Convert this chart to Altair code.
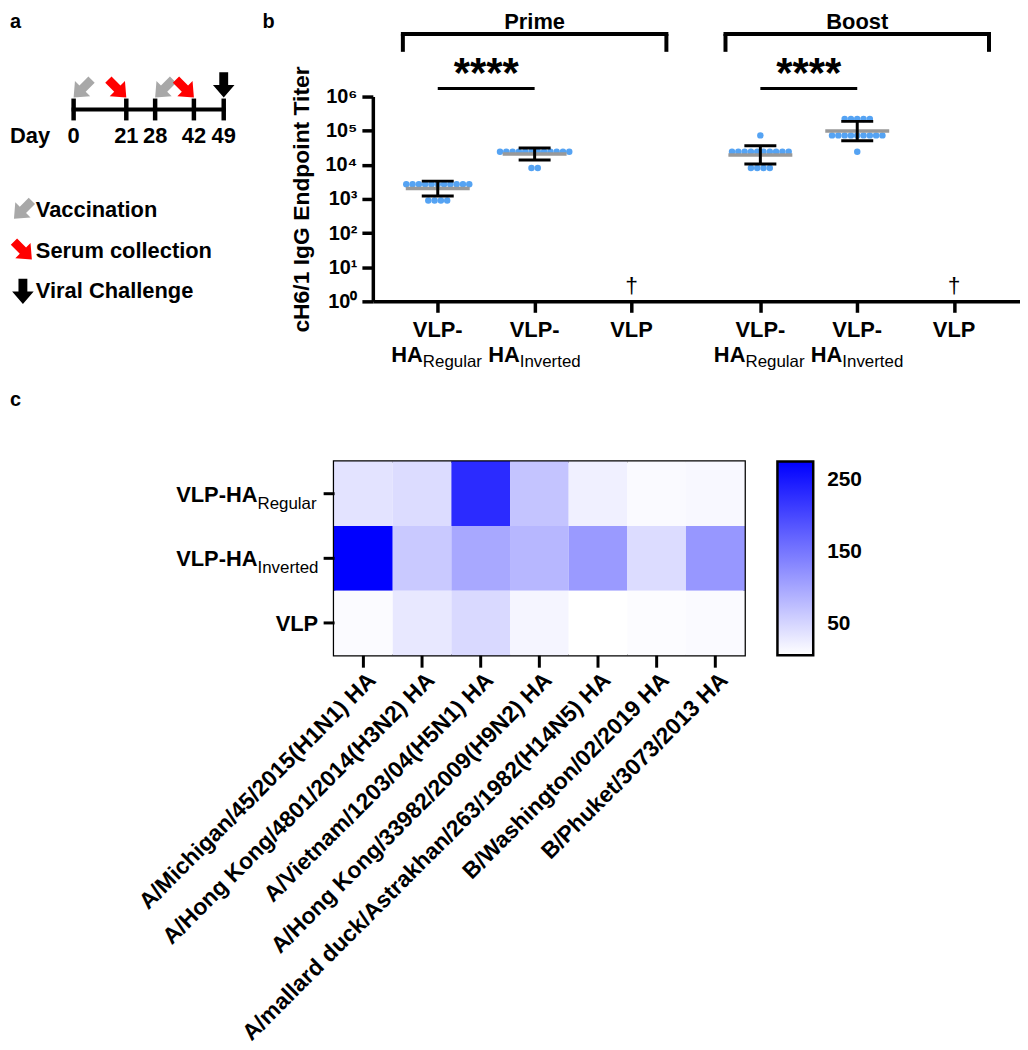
import math
import altair as alt
import pandas as pd

FONT = "Liberation Sans, Arial, Helvetica, sans-serif"

# ---------------- panel a : schedule ----------------
schedule_days = [0, 21, 28, 42, 49]
arrow_days = [0, 21, 28, 42, 49]
arrow_events = ["Vaccination", "Serum collection", "Vaccination", "Serum collection", "Viral Challenge"]
event_names = ["Vaccination", "Serum collection", "Viral Challenge"]
event_colors = ["#a8a8a8", "#ff0000", "#000000"]

# ---------------- panel b : endpoint titers ----------------
group_pos = [1.0, 2.0, 3.0, 4.33, 5.33, 6.33]
group_line1 = ["VLP-", "VLP-", "VLP", "VLP-", "VLP-", "VLP"]
group_line2 = ["HA", "HA", "", "HA", "HA", ""]
group_sub = ["Regular", "Inverted", "", "Regular", "Inverted", ""]
phase_names = ["Prime", "Boost"]
phase_center = [2.0, 5.33]
sig_from = [1.0, 4.33]
sig_to = [2.0, 5.33]
sig_text = ["****", "****"]
no_response_pos = [3.0, 6.33]

titer_prime_regular = [2700, 2700, 2700, 2700, 2700, 2700, 2700, 2700, 2700, 2700, 2700,
                       900, 900, 900, 900]
titer_prime_inverted = [24300, 24300, 24300, 24300, 24300, 24300, 24300, 24300, 24300, 24300,
                        24300, 24300, 8100, 8100]
titer_boost_regular = [72900, 24300, 24300, 24300, 24300, 24300, 24300, 24300, 24300, 24300,
                       24300, 8100, 8100, 8100, 8100]
titer_boost_inverted = [218700, 218700, 218700, 218700, 218700, 72900, 72900, 72900, 72900,
                        72900, 72900, 72900, 72900, 72900, 24300]

# ---------------- panel c : heatmap ----------------
strains = ["A/Michigan/45/2015(H1N1) HA", "A/Hong Kong/4801/2014(H3N2) HA",
           "A/Vietnam/1203/04(H5N1) HA", "A/Hong Kong/33982/2009(H9N2) HA",
           "A/mallard duck/Astrakhan/263/1982(H14N5) HA", "B/Washington/02/2019 HA",
           "B/Phuket/3073/2013 HA"]
vaccine_rows = ["VLP-HA Regular", "VLP-HA Inverted", "VLP"]
row_main = ["VLP-HA", "VLP-HA", "VLP"]
row_sub = ["Regular", "Inverted", ""]
heat_regular = [36, 43, 231, 68, 22, 11, 13]
heat_inverted = [276, 63, 98, 82, 113, 43, 116]
heat_vlp = [10, 30, 46, 17, 6, 9, 11]
colorbar_ticks = [50, 150, 250]

# ---------------- tables ----------------
days_df = pd.DataFrame({"day": schedule_days, "label": [str(d) for d in schedule_days]})
arrows_df = pd.DataFrame({"day": arrow_days, "event": arrow_events})

groups_df = pd.DataFrame({"pos": group_pos, "line1": group_line1, "line2": group_line2, "sub": group_sub})
phase_df = pd.DataFrame({"phase": phase_names, "center": phase_center})
sig_df = pd.DataFrame({"a": sig_from, "b": sig_to, "txt": sig_text})
dag_df = pd.DataFrame({"pos": no_response_pos, "txt": ["\u2020", "\u2020"]})
rows = []
for p, vals in zip([1.0, 2.0, 4.33, 5.33],
                   [titer_prime_regular, titer_prime_inverted, titer_boost_regular, titer_boost_inverted]):
    for v in vals:
        rows.append({"pos": p, "titer": v})
dots_df = pd.DataFrame(rows)

heat_rows = []
for vac, vals in zip(vaccine_rows, [heat_regular, heat_inverted, heat_vlp]):
    for s, v in zip(strains, vals):
        heat_rows.append({"vaccine": vac, "strain": s, "value": v})
heat_df = pd.DataFrame(heat_rows)
rowlab_df = pd.DataFrame({"vaccine": vaccine_rows, "main": row_main, "sub": row_sub})
heat_min = float(heat_df["value"].min())
heat_max = float(heat_df["value"].max())


def one(t):
    return pd.DataFrame({"t": [t]})


OX = 39  # left shift of panel b plot inside the top row (row origin is aligned with heatmap)

# ---------------- panel a layers ----------------
def arrow_path(deg):
    pts = [(-0.35, -1), (0.35, -1), (0.35, 0), (0.85, 0), (0, 1), (-0.85, 0), (-0.35, 0)]
    t = math.radians(deg)
    c, s = math.cos(t), math.sin(t)
    out = []
    for i, (x, y) in enumerate(pts):
        xr, yr = x * c - y * s, x * s + y * c
        out.append(("M" if i == 0 else "L") + f"{xr:.3f},{yr:.3f}")
    return " ".join(out) + " Z"


ASIZE = 650
half = math.sqrt(ASIZE) / 2
arrow_shapes = [arrow_path(45), arrow_path(-45), arrow_path(0)]
arrow_offsets = [(half * 0.707, -half * 0.707), (-half * 0.707, -half * 0.707), (0, -half)]

xa = alt.Scale(domain=schedule_days, range=[OX - 301, OX - 248, OX - 219, OX - 180, OX - 150])
color_scale = alt.Scale(domain=event_names, range=event_colors)
shape_scale = alt.Scale(domain=event_names, range=arrow_shapes)
legend_a = alt.Legend(title=None, orient="none", legendX=OX - 365, legendY=101, symbolSize=ASIZE,
                      labelFontSize=22, labelFontWeight="bold", labelFont=FONT, labelColor="black",
                      labelLimit=500, rowPadding=17, labelOffset=0, symbolStrokeWidth=0,
                      symbolOpacity=1)

tl_line = alt.Chart(days_df).mark_rule(color="black", strokeWidth=4, strokeCap="square").encode(
    x=alt.X("min(day):Q", scale=xa, axis=None), x2="max(day):Q", y=alt.value(13))
tl_ticks = alt.Chart(days_df).mark_rule(color="black", strokeWidth=4.5).encode(
    x=alt.X("day:Q", scale=xa, axis=None), y=alt.value(2), y2=alt.value(24))
tl_labels = alt.Chart(days_df).mark_text(fontSize=22, fontWeight="bold", baseline="alphabetic",
                                         color="black").encode(
    x=alt.X("day:Q", scale=xa, axis=None), y=alt.value(47), text="label:N")
tl_day = alt.Chart(one("Day")).mark_text(fontSize=22, fontWeight="bold", align="left",
                                         baseline="alphabetic", color="black").encode(
    x=alt.value(OX - 365), y=alt.value(47), text="t:N")
arrow_layers = []
for ev, (ox, oy) in zip(event_names, arrow_offsets):
    arrow_layers.append(
        alt.Chart(arrows_df).transform_filter(alt.datum.event == ev)
        .mark_point(filled=True, size=ASIZE, opacity=1, strokeWidth=0, xOffset=ox, yOffset=oy)
        .encode(x=alt.X("day:Q", scale=xa, axis=None), y=alt.value(1),
                color=alt.Color("event:N", scale=color_scale, legend=legend_a),
                shape=alt.Shape("event:N", scale=shape_scale, legend=legend_a)))
lab_a = alt.Chart(one("a")).mark_text(fontSize=20, fontWeight="bold", align="left",
                                      baseline="alphabetic", color="black").encode(
    x=alt.value(OX - 365), y=alt.value(-69), text="t:N")
lab_b = alt.Chart(one("b")).mark_text(fontSize=20, fontWeight="bold", align="left",
                                      baseline="alphabetic", color="black").encode(
    x=alt.value(OX - 111), y=alt.value(-69), text="t:N")

panel_a = alt.layer(tl_line, tl_ticks, tl_labels, tl_day, *arrow_layers, lab_a, lab_b)

# ---------------- panel b layers ----------------
xb = alt.Scale(domain=[0.33, 7.01], range=[OX, OX + 651], nice=False, zero=False)
yb = alt.Scale(type="log", domain=[1, 1000000], nice=False)
sup = ["\u2070", "\u00b9", "\u00b2", "\u00b3", "\u2074", "\u2075", "\u2076"]
sup_expr = "'10' + [" + ",".join("'" + s + "'" for s in sup) + "][round(log(datum.value) / LN10)]"
x_axis_b = alt.Axis(values=group_pos, labels=False, title=None, grid=False, tickSize=11,
                    tickWidth=3.5, domainWidth=3.5, tickColor="black", domainColor="black")
y_axis_b = alt.Axis(values=[1, 10, 100, 1000, 10000, 100000, 1000000], labelExpr=sup_expr,
                    title="cH6/1 IgG Endpoint Titer", grid=False, tickSize=11, tickWidth=3.5,
                    domainWidth=3.5, tickColor="black", domainColor="black", offset=-OX,
                    labelFontSize=20, labelFontWeight="bold", labelFont=FONT, labelColor="black",
                    labelPadding=5, titleFontSize=23, titleFontWeight="bold", titleFont=FONT,
                    titleColor="black", titlePadding=12)


def XB(f):
    return alt.X(f, scale=xb, axis=x_axis_b)


def YB(f):
    return alt.Y(f, scale=yb, axis=y_axis_b)


dots = (alt.Chart(dots_df)
        .transform_window(idx="row_number()", groupby=["pos", "titer"])
        .transform_joinaggregate(n="count()", groupby=["pos", "titer"])
        .transform_calculate(xd="datum.pos + (datum.idx - 1 - (datum.n - 1) / 2) * 0.065")
        .mark_circle(size=42, color="#55a3f3", opacity=1)
        .encode(x=XB("xd:Q"), y=YB("titer:Q")))

stats = (alt.Chart(dots_df)
         .transform_calculate(lg="log(datum.titer) / LN10")
         .transform_aggregate(m="mean(lg)", s="stdev(lg)", groupby=["pos"])
         .transform_calculate(gm="pow(10, datum.m)", lo="pow(10, datum.m - datum.s)",
                              hi="pow(10, datum.m + datum.s)", a1="datum.pos - 0.33",
                              a2="datum.pos + 0.33", c1="datum.pos - 0.165", c2="datum.pos + 0.165"))
mean_line = stats.mark_rule(color="#999999", strokeWidth=3.5).encode(x=XB("a1:Q"), x2="a2:Q", y=YB("gm:Q"))
err_v = stats.mark_rule(color="black", strokeWidth=3).encode(x=XB("pos:Q"), y=YB("lo:Q"), y2="hi:Q")
err_hi = stats.mark_rule(color="black", strokeWidth=3).encode(x=XB("c1:Q"), x2="c2:Q", y=YB("hi:Q"))
err_lo = stats.mark_rule(color="black", strokeWidth=3).encode(x=XB("c1:Q"), x2="c2:Q", y=YB("lo:Q"))

lab1 = alt.Chart(groups_df).mark_text(fontSize=22, fontWeight="bold", baseline="alphabetic",
                                      color="black").encode(x=XB("pos:Q"), y=alt.value(242), text="line1:N")
lab2 = (alt.Chart(groups_df).transform_filter("datum.line2 != ''")
        .mark_text(fontSize=22, fontWeight="bold", baseline="alphabetic", align="right", dx=-15,
                   color="black")
        .encode(x=XB("pos:Q"), y=alt.value(267), text="line2:N"))
lab3 = (alt.Chart(groups_df).transform_filter("datum.sub != ''")
        .mark_text(fontSize=17, baseline="alphabetic", align="left", dx=-15, color="black")
        .encode(x=XB("pos:Q"), y=alt.value(272), text="sub:N"))

brk = alt.Chart(phase_df).transform_calculate(lo="datum.center - 1.36", hi="datum.center + 1.36")
br_h = brk.mark_rule(color="black", strokeWidth=4, strokeCap="square").encode(
    x=XB("lo:Q"), x2="hi:Q", y=alt.value(-63))
br_l = brk.mark_rule(color="black", strokeWidth=4).encode(x=XB("lo:Q"), y=alt.value(-63), y2=alt.value(-45))
br_r = brk.mark_rule(color="black", strokeWidth=4).encode(x=XB("hi:Q"), y=alt.value(-63), y2=alt.value(-45))
br_t = brk.mark_text(fontSize=22, fontWeight="bold", baseline="alphabetic", color="black").encode(
    x=XB("center:Q"), y=alt.value(-68), text="phase:N")

sig = alt.Chart(sig_df).transform_calculate(mid="(datum.a + datum.b) / 2")
sig_line = sig.mark_rule(color="black", strokeWidth=3).encode(x=XB("a:Q"), x2="b:Q", y=alt.value(-8))
sig_star = sig.mark_text(fontSize=42, fontWeight="bold", baseline="alphabetic", color="black").encode(
    x=XB("mid:Q"), y=alt.value(-10), text="txt:N")
dagger = alt.Chart(dag_df).mark_text(fontSize=23, baseline="alphabetic", color="black").encode(
    x=XB("pos:Q"), y=alt.value(198), text="txt:N")

panel_b = alt.layer(dots, mean_line, err_v, err_hi, err_lo, lab1, lab2, lab3,
                    br_h, br_l, br_r, br_t, sig_line, sig_star, dagger)

row1 = alt.layer(panel_a, panel_b).resolve_scale(x="independent").properties(width=OX + 651, height=206)

# ---------------- panel c ----------------
xs_c = alt.Scale(paddingInner=0, paddingOuter=0)
ys_c = alt.Scale(paddingInner=0, paddingOuter=0)
x_axis_c = alt.Axis(labelAngle=315, labelAlign="right", labelBaseline="middle", labelFontSize=23,
                    labelFontWeight="bold", labelFont=FONT, labelColor="black", labelLimit=1000,
                    tickSize=12, tickWidth=3, tickColor="black", domain=False, labelPadding=9,
                    labelOffset=9, title=None)
y_axis_c = alt.Axis(labels=False, tickSize=11, tickWidth=3, tickColor="black", domain=False, title=None)
legend_c = alt.Legend(title=None, orient="right", offset=33, padding=0, gradientLength=195,
                      gradientThickness=36, gradientStrokeColor="black", gradientStrokeWidth=2.5,
                      values=colorbar_ticks, labelFontSize=21, labelFontWeight="bold", labelFont=FONT,
                      labelColor="black", labelOffset=14, direction="vertical")


def YC(f):
    return alt.Y(f, sort=vaccine_rows, scale=ys_c, axis=y_axis_c)


heat = alt.Chart(heat_df).mark_rect(strokeWidth=0).encode(
    x=alt.X("strain:N", sort=strains, scale=xs_c, axis=x_axis_c),
    y=YC("vaccine:N"),
    color=alt.Color("value:Q", scale=alt.Scale(range=["#ffffff", "#0000ff"], interpolate="rgb",
                                               zero=False, nice=False), legend=legend_c))
rl_main = (alt.Chart(rowlab_df).transform_filter("datum.sub != ''")
           .mark_text(fontSize=22, fontWeight="bold", align="right", baseline="alphabetic", dy=8,
                      color="black")
           .encode(y=YC("vaccine:N"), x=alt.value(-77), text="main:N"))
rl_plain = (alt.Chart(rowlab_df).transform_filter("datum.sub == ''")
            .mark_text(fontSize=22, fontWeight="bold", align="right", baseline="alphabetic", dy=8,
                       color="black")
            .encode(y=YC("vaccine:N"), x=alt.value(-16), text="main:N"))
rl_sub = (alt.Chart(rowlab_df).transform_filter("datum.sub != ''")
          .mark_text(fontSize=17, align="left", baseline="alphabetic", dy=15, color="black")
          .encode(y=YC("vaccine:N"), x=alt.value(-77), text="sub:N"))
lab_c = alt.Chart(one("c")).mark_text(fontSize=20, fontWeight="bold", align="left",
                                      baseline="alphabetic", color="black").encode(
    x=alt.value(-326), y=alt.value(-56), text="t:N")

heat_layers = alt.layer(heat, rl_main, rl_plain, rl_sub, lab_c)

# tick marks drawn on the colour bar (same value extent as the colour scale)
cb_scale = alt.Scale(domain=[heat_min, heat_max], nice=False, zero=False)
cb_df = pd.DataFrame({"v": colorbar_ticks})
cb_left = alt.Chart(cb_df).mark_rule(color="black", strokeWidth=2.5).encode(
    y=alt.Y("v:Q", scale=cb_scale, axis=None), x=alt.value(446), x2=alt.value(453))
cb_right = alt.Chart(cb_df).mark_rule(color="black", strokeWidth=2.5).encode(
    y=alt.Y("v:Q", scale=cb_scale, axis=None), x=alt.value(475), x2=alt.value(482))
cb_layers = alt.layer(cb_left, cb_right)

panel_c = alt.layer(heat_layers, cb_layers).resolve_scale(y="independent").properties(
    width=413, height=195, view=alt.ViewBackground(stroke="black", strokeWidth=2.5))

chart = (alt.ConcatChart(concat=[row1, panel_c], columns=1, spacing=18, align="none")
         .resolve_scale(x="independent", y="independent", color="independent", shape="independent")
         .configure(font=FONT, padding=0)
         .configure_view(stroke=None))

chart.save("out.html", embed_options={"renderer": "svg", "actions": False})
